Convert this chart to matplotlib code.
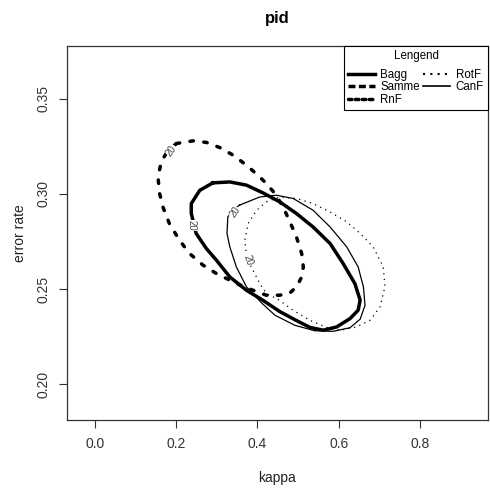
import matplotlib
matplotlib.use("Agg")
import matplotlib.pyplot as plt
from matplotlib.lines import Line2D

plt.rcParams['font.family'] = ['Liberation Sans', 'DejaVu Sans']

# contour (level 20) outlines: kappa / error rate
rnf_kappa = [0.200, 0.241, 0.274, 0.307, 0.340, 0.373, 0.398, 0.422, 0.443, 0.463,
             0.480, 0.496, 0.509, 0.513, 0.509, 0.496, 0.480, 0.455, 0.422, 0.369,
             0.332, 0.299, 0.266, 0.233, 0.208, 0.183, 0.167, 0.159, 0.155, 0.163,
             0.175, 0.200]
rnf_err = [0.3265, 0.3279, 0.3271, 0.3244, 0.3204, 0.3151, 0.3104, 0.3055, 0.3002, 0.2932,
           0.2853, 0.2774, 0.2686, 0.2616, 0.2563, 0.2511, 0.2479, 0.2467, 0.2467, 0.2509,
           0.2546, 0.2581, 0.2625, 0.2686, 0.2756, 0.2844, 0.2932, 0.3002, 0.3089, 0.3168,
           0.3213, 0.3265]

bagg_kappa = [0.290, 0.332, 0.373, 0.414, 0.455, 0.496, 0.537, 0.579, 0.611, 0.640,
              0.653, 0.648, 0.628, 0.595, 0.562, 0.529, 0.495, 0.455, 0.413, 0.373,
              0.332, 0.299, 0.274, 0.249, 0.237, 0.237, 0.258, 0.290]
bagg_err = [0.3058, 0.3063, 0.3046, 0.3005, 0.2958, 0.2897, 0.2826, 0.2739, 0.2634, 0.2528,
            0.2441, 0.2388, 0.2344, 0.2300, 0.2283, 0.2298, 0.2335, 0.2381, 0.2441, 0.2493,
            0.2563, 0.2651, 0.2713, 0.2792, 0.2897, 0.2949, 0.3019, 0.3058]

canf_kappa = [0.356, 0.406, 0.447, 0.488, 0.537, 0.579, 0.620, 0.648, 0.661, 0.665,
              0.653, 0.628, 0.586, 0.541, 0.492, 0.443, 0.411, 0.385, 0.373, 0.348,
              0.332, 0.325, 0.327, 0.339, 0.356]
canf_err = [0.2941, 0.2984, 0.2993, 0.2976, 0.2914, 0.2826, 0.2721, 0.2616, 0.2511, 0.2414,
            0.2341, 0.2296, 0.2277, 0.2280, 0.2309, 0.2362, 0.2425, 0.2484, 0.2511, 0.2616,
            0.2721, 0.2792, 0.2879, 0.2914, 0.2941]

rotf_kappa = [0.422, 0.455, 0.496, 0.537, 0.579, 0.620, 0.653, 0.685, 0.710, 0.714,
              0.702, 0.677, 0.644, 0.603, 0.570, 0.529, 0.488, 0.450, 0.422, 0.406,
              0.389, 0.373, 0.369, 0.377, 0.398, 0.422]
rotf_err = [0.2958, 0.2984, 0.2976, 0.2949, 0.2905, 0.2853, 0.2792, 0.2721, 0.2616, 0.2511,
            0.2405, 0.2335, 0.2300, 0.2282, 0.2298, 0.2335, 0.2388, 0.2446, 0.2476, 0.2528,
            0.2598, 0.2668, 0.2756, 0.2844, 0.2914, 0.2958]

# contour label spots: (kappa, error, rotation)
label_pos = [(0.188, 0.3228, 55), (0.237, 0.2835, -90), (0.344, 0.2903, 55), (0.377, 0.2651, -72)]

legend_names = ['Bagg', 'Samme', 'RnF', 'RotF', 'CanF']
xticks = [0.0, 0.2, 0.4, 0.6, 0.8]
yticks = [0.20, 0.25, 0.30, 0.35]

fig = plt.figure(figsize=(4.9, 4.96), dpi=100)
ax = fig.add_axes([0.136, 0.153, 0.860, 0.755])

thick = 2.5
thin = 0.9
ax.plot(rnf_kappa, rnf_err, color='black', lw=thick, linestyle=(0, (1, 3)),
        dash_capstyle='round')
ax.plot(bagg_kappa, bagg_err, color='black', lw=thick, solid_joinstyle='round')
ax.plot(canf_kappa, canf_err, color='black', lw=thin)
ax.plot(rotf_kappa, rotf_err, color='black', lw=thin, linestyle=(0, (1, 3.5)))

for kx, ey, rot in label_pos:
    ax.text(kx, ey, '20', fontsize=7, color='#444444', rotation=rot,
            ha='center', va='center', rotation_mode='anchor',
            bbox=dict(facecolor='white', edgecolor='none', pad=0.3))

ax.set_xlim(-0.07, 0.968)
ax.set_ylim(0.181, 0.378)
ax.set_xticks(xticks)
ax.set_xticklabels(['%.1f' % v for v in xticks], fontsize=10, color='#333333')
ax.set_yticks(yticks)
ax.set_yticklabels(['%.2f' % v for v in yticks], fontsize=10, color='#333333',
                   rotation=90, va='center')
ax.tick_params(direction='out', length=5.5, width=0.8, color='#333333')
ax.tick_params(axis='x', pad=7)
ax.tick_params(axis='y', pad=6)
for s in ax.spines.values():
    s.set_color('#333333')
    s.set_linewidth(0.9)

ax.set_xlabel('kappa', fontsize=10, labelpad=14, color='#222222')
ax.set_ylabel('error rate', fontsize=10, labelpad=7, color='#222222')
ax.set_title('pid', fontsize=12, fontweight='bold', pad=16)

handles = [
    Line2D([], [], color='black', lw=thick),
    Line2D([], [], color='black', lw=thick, linestyle=(0, (2, 1))),
    Line2D([], [], color='black', lw=thick, linestyle=(0, (1, 1)), dash_capstyle='round'),
    Line2D([], [], color='black', lw=1.5, linestyle=(0, (1, 2.5))),
    Line2D([], [], color='black', lw=1.2),
]
leg = ax.legend(handles, legend_names, title='Lengend', ncol=2, loc='upper right',
                bbox_to_anchor=(1.0, 1.0), borderaxespad=0, fontsize=8.3,
                title_fontsize=8.3, fancybox=False, edgecolor='black',
                framealpha=1, handlelength=2.3, handletextpad=0.5,
                columnspacing=0.3, labelspacing=0.05, borderpad=0.35)
leg.get_frame().set_linewidth(0.8)
leg._legend_box.sep = 5

fig.savefig('out.png', dpi=100)
